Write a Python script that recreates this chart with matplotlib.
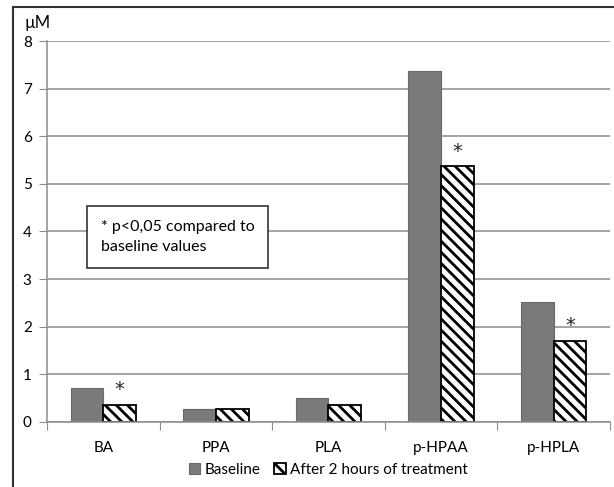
import matplotlib.pyplot as plt
import matplotlib.lines as mlines
import numpy as np

plt.rcParams['font.family'] = ['Lato', 'DejaVu Sans']
plt.rcParams['hatch.linewidth'] = 2.0

categories = ['BA', 'PPA', 'PLA', 'p-HPAA', 'p-HPLA']
baseline = [0.72, 0.27, 0.50, 7.37, 2.53]
after_2h = [0.36, 0.27, 0.36, 5.37, 1.70]
significant = [True, False, False, True, True]

fig = plt.figure(figsize=(6.14, 4.87), dpi=100)
ax = fig.add_axes([0.0765, 0.1335, 0.917, 0.7823])

x = np.arange(len(categories))
w = 0.29
ax.bar(x - w / 2, baseline, w, color='#7a7a7a', edgecolor='#6a6a6a',
       linewidth=0.8, label='Baseline')
ax.bar(x + w / 2, after_2h, w, color='white', edgecolor='black',
       hatch='\\\\\\', linewidth=1.3, label='After 2 hours of treatment')

for xi, v, s in zip(x, after_2h, significant):
    if s:
        ax.text(xi + w / 2, v + 0.12, '*', ha='center', va='bottom', fontsize=14,
                family='DejaVu Sans', color='#222222')

ax.set_xlim(-0.5, len(categories) - 0.5)
ax.set_ylim(0, 8)
ax.set_yticks(range(0, 9))
ax.yaxis.grid(True, color='#8c8c8c', linewidth=1.1)
ax.set_axisbelow(True)

ax.set_xticks(np.arange(-0.5, len(categories)), minor=False)
ax.set_xticklabels([])
ax.set_xticks(x, minor=True)
ax.set_xticklabels(categories, minor=True)
ax.tick_params(axis='x', which='major', length=6, color='#8c8c8c', direction='out')
ax.tick_params(axis='x', which='minor', length=0, pad=14, labelsize=11)
ax.tick_params(axis='y', length=6, color='#8c8c8c', labelsize=11, pad=5)

for side in ['top', 'right']:
    ax.spines[side].set_visible(False)
for side in ['left', 'bottom']:
    ax.spines[side].set_color('#8c8c8c')
    ax.spines[side].set_linewidth(1.1)

fig.text(0.040, 0.953, 'µM', fontsize=12, ha='left', va='center')

ax.text(0.096, 0.486, '* p<0,05 compared to\nbaseline values', transform=ax.transAxes,
        fontsize=11.5, ha='left', va='center', linespacing=1.6,
        bbox=dict(boxstyle='square,pad=0.85', facecolor='white', edgecolor='#333333',
                  linewidth=1.2))

ax.legend(loc='center', bbox_to_anchor=(0.5, -0.125), ncol=2, frameon=False,
          fontsize=11, handlelength=0.75, handleheight=0.75, handletextpad=0.3,
          columnspacing=0.9)

# outer frame of the original figure
fig.add_artist(mlines.Line2D([13 / 614, 13 / 614], [0, 1 - 7 / 487],
                             color='#333333', linewidth=1.5, transform=fig.transFigure))
fig.add_artist(mlines.Line2D([13 / 614, 1], [1 - 7 / 487, 1 - 7 / 487],
                             color='#333333', linewidth=1.5, transform=fig.transFigure))

fig.savefig('out.png', dpi=100)
